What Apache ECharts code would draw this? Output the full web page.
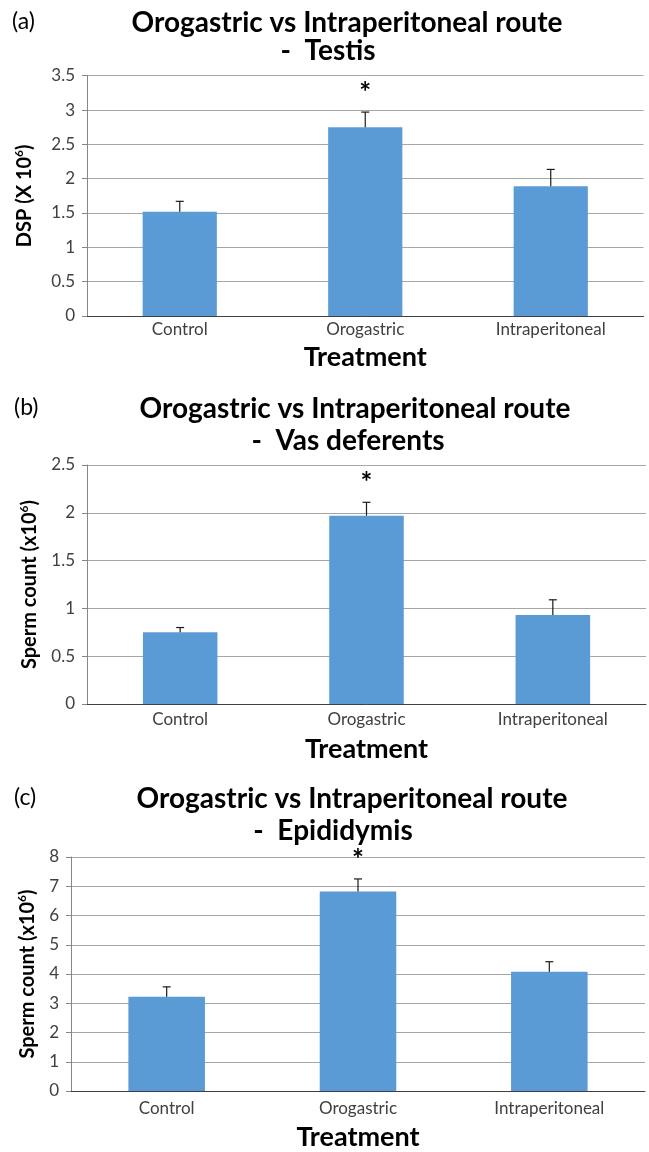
<!DOCTYPE html>
<html>
<head>
<meta charset="utf-8">
<style>
  html, body { margin: 0; padding: 0; background: #ffffff; }
  #chart { width: 649px; height: 1152px; }
</style>
<script src="https://cdn.jsdelivr.net/npm/echarts@6/dist/echarts.min.js"></script>
</head>
<body>
<div id="chart"></div>
<script>
// Treatment groups shared by all three panels
const categories = ['Control', 'Orogastric', 'Intraperitoneal'];
// Significance markers drawn above each group
const marks = ['', '*', ''];

// (a) Testis – daily sperm production (x10^6), mean and SEM
const testisMean = [1.52, 2.75, 1.89];
const testisErr = [0.15, 0.22, 0.245];

// (b) Vas deferents – sperm count (x10^6)
const vasMean = [0.75, 1.97, 0.93];
const vasErr = [0.05, 0.14, 0.16];

// (c) Epididymis – sperm count (x10^6)
const epiMean = [3.22, 6.82, 4.08];
const epiErr = [0.34, 0.43, 0.34];

// Y-axis tick ranges
const testisTicks = { min: 0, max: 3.5, interval: 0.5 };
const vasTicks = { min: 0, max: 2.5, interval: 0.5 };
const epiTicks = { min: 0, max: 8, interval: 1 };

const FONT = 'Lato';
const BAR = '#5B9BD5';

const panels = [
  { tag: '(a)', tagX: 12, line1: 'Orogastric vs Intraperitoneal route', line2: '-  Testis',
    yName: '{t|DSP (X 10}{s|6}{t|)}', mean: testisMean, err: testisErr, ticks: testisTicks,
    grid: { left: 87, right: 5.5, top: 75.7, height: 240.3 },
    titleY: 21.7, line1X: 347, line2Y: 50, line2X: 328, yNameGap: 50, xNameGap: 28, catMargin: 5 },
  { tag: '(b)', tagX: 14, line1: 'Orogastric vs Intraperitoneal route', line2: '-  Vas deferents',
    yName: '{t|Sperm count (x10}{s|6}{t|)}', mean: vasMean, err: vasErr, ticks: vasTicks,
    grid: { left: 87, right: 3, top: 465, height: 239 },
    titleY: 408, line1X: 355, line2Y: 440, line2X: 348, yNameGap: 45, xNameGap: 32, catMargin: 7 },
  { tag: '(c)', tagX: 14, line1: 'Orogastric vs Intraperitoneal route', line2: '-  Epididymis',
    yName: '{t|Sperm count (x10}{s|6}{t|)}', mean: epiMean, err: epiErr, ticks: epiTicks,
    grid: { left: 71, right: 4, top: 857, height: 241 },
    titleY: 798, line1X: 352, line2Y: 830, line2X: 333, yNameGap: 31, xNameGap: 33, catMargin: 9 }
];

const titles = [];
const grids = [];
const xAxes = [];
const yAxes = [];
const series = [];

panels.forEach((p, k) => {
  titles.push({
    text: p.tag, left: p.tagX, top: p.titleY - 14, padding: 0,
    textStyle: { fontFamily: FONT, fontSize: 23, fontWeight: 'normal', color: '#000', lineHeight: 28 }
  });
  titles.push({
    text: p.line1, left: p.line1X, top: p.titleY - 15, padding: 0, textAlign: 'center',
    textStyle: { fontFamily: FONT, fontSize: 28, fontWeight: 'bold', color: '#000', lineHeight: 32 }
  });
  titles.push({
    text: p.line2, left: p.line2X, top: p.line2Y - 15, padding: 0, textAlign: 'center',
    textStyle: { fontFamily: FONT, fontSize: 28, fontWeight: 'bold', color: '#000', lineHeight: 32 }
  });

  grids.push(p.grid);

  xAxes.push({
    type: 'category', gridIndex: k, data: categories,
    name: 'Treatment', nameLocation: 'middle', nameGap: p.xNameGap,
    nameTextStyle: { fontFamily: FONT, fontSize: 27, fontWeight: 'bold', color: '#000' },
    axisLine: { lineStyle: { color: '#404040', width: 1 } },
    axisTick: { show: false },
    axisLabel: { fontFamily: FONT, fontSize: 17, color: '#404040', margin: p.catMargin }
  });

  yAxes.push({
    type: 'value', gridIndex: k,
    min: p.ticks.min, max: p.ticks.max, interval: p.ticks.interval,
    name: p.yName, nameLocation: 'middle', nameGap: p.yNameGap,
    nameTextStyle: {
      rich: {
        t: { fontFamily: FONT, fontSize: 20, fontWeight: 'bold', color: '#000', lineHeight: 24 },
        s: { fontFamily: FONT, fontSize: 12, fontWeight: 'bold', color: '#000', lineHeight: 24, verticalAlign: 'top', padding: [0, 0, 7, 0] }
      }
    },
    axisLine: { show: true, lineStyle: { color: '#868686', width: 1 } },
    axisTick: { show: true, length: 5, lineStyle: { color: '#868686' } },
    axisLabel: { fontFamily: FONT, fontSize: 17, color: '#404040', margin: 12 },
    splitLine: { lineStyle: { color: '#a6a6a6', width: 1 } }
  });

  series.push({
    type: 'bar', xAxisIndex: k, yAxisIndex: k,
    data: p.mean, barCategoryGap: '60%',
    itemStyle: { color: BAR },
    animation: false
  });

  // Upper error bar with cap, plus the significance marker above it
  series.push({
    type: 'custom', xAxisIndex: k, yAxisIndex: k, z: 5, animation: false,
    data: p.mean.map((m, i) => [i, m, p.err[i]]),
    renderItem: function (params, api) {
      const i = api.value(0);
      const m = api.value(1);
      const e = api.value(2);
      const base = api.coord([i, m]);
      const top = api.coord([i, m + e]);
      const half = 4;
      const children = [
        { type: 'line', shape: { x1: base[0], y1: base[1], x2: top[0], y2: top[1] },
          style: { stroke: '#1a1a1a', lineWidth: 1.2 } },
        { type: 'line', shape: { x1: top[0] - half, y1: top[1], x2: top[0] + half, y2: top[1] },
          style: { stroke: '#1a1a1a', lineWidth: 1.2 } }
      ];
      const mk = marks[params.dataIndex];
      if (mk) {
        children.push({
          type: 'text', x: top[0], y: top[1] - 5,
          style: { text: mk, fontFamily: FONT, fontSize: 28, fontWeight: 'bold', fill: '#000',
                   align: 'center', verticalAlign: 'bottom' }
        });
      }
      return { type: 'group', children: children };
    }
  });
});

const chart = echarts.init(document.getElementById('chart'), null, { renderer: 'canvas' });
chart.setOption({
  backgroundColor: '#ffffff',
  animation: false,
  title: titles,
  grid: grids,
  xAxis: xAxes,
  yAxis: yAxes,
  series: series
});
</script>
</body>
</html>
